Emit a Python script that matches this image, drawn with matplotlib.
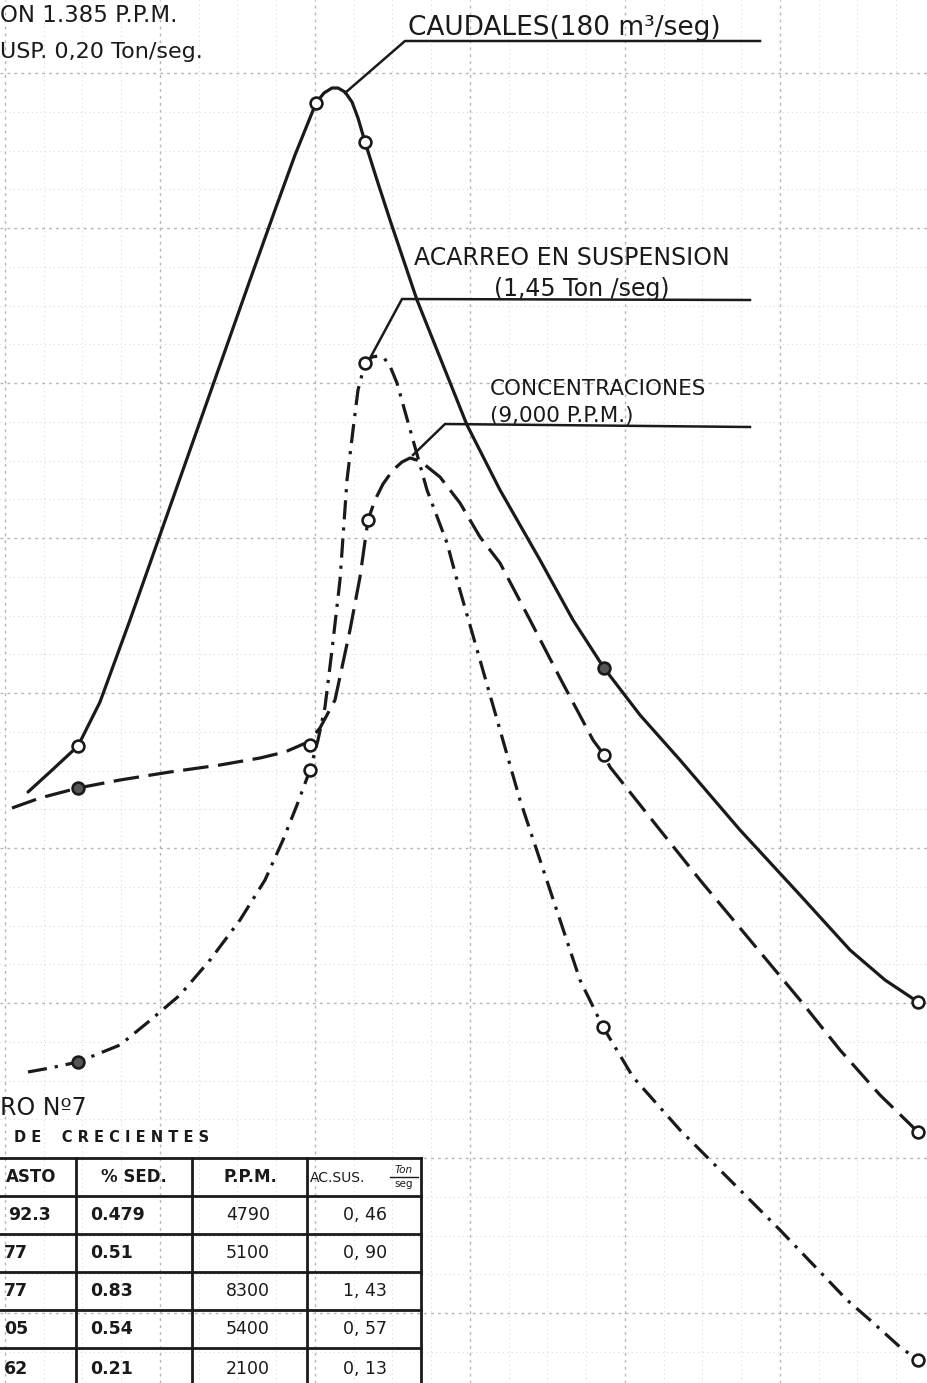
import matplotlib
matplotlib.use("Agg")
import matplotlib.pyplot as plt
import numpy as np

# ---------------- data (graph-paper units; y grows downward) ----------------
# CAUDALES (solid)
caudal_x = [28, 50, 78, 100, 130, 160, 190, 220, 250, 275, 295, 316, 324, 332, 338, 345, 352, 358, 365, 377,
            390, 417, 445, 467, 500, 540, 573, 604, 640, 680, 740, 800, 850, 885, 918]
caudal_y = [792, 772, 746, 702, 620, 535, 450, 365, 280, 210, 155, 103, 93, 88, 88, 92, 102, 118, 142, 180,
            220, 300, 370, 425, 490, 560, 620, 668, 715, 760, 830, 895, 950, 980, 1002]
caudal_px = [78, 316, 365, 604, 918]
caudal_py = [746, 103, 142, 668, 1002]
caudal_fill = [False, False, False, True, False]

# CONCENTRACIONES (dashed)
conc_x = [12, 40, 78, 120, 170, 220, 260, 285, 308, 320, 335, 350, 360, 368, 375, 383, 393, 402, 410, 420,
          440, 460, 480, 500, 530, 560, 593, 604, 610, 660, 700, 750, 800, 840, 880, 918]
conc_y = [808, 798, 788, 780, 772, 765, 758, 752, 742, 728, 700, 630, 577, 520, 500, 484, 470, 462, 458, 461,
          477, 503, 537, 563, 620, 678, 740, 755, 767, 830, 880, 940, 1000, 1050, 1095, 1132]
conc_px = [78, 310, 368, 604, 918]
conc_py = [788, 745, 520, 755, 1132]
conc_fill = [True, False, False, False, False]

# ACARREO EN SUSPENSION (dash-dot)
acar_x = [28, 50, 78, 120, 147, 180, 210, 240, 265, 283, 297, 310, 318, 325, 332, 340, 347, 353, 358, 365,
          372, 378, 384, 390, 397, 413, 427, 447, 457, 480, 500, 520, 540, 560, 580, 603, 633, 680, 730, 780,
          847, 870, 900, 918]
acar_y = [1072, 1068, 1062, 1045, 1023, 995, 960, 920, 880, 840, 805, 770, 740, 707, 650, 580, 480, 430, 390,
          363, 357, 356, 358, 366, 383, 440, 490, 543, 580, 660, 730, 800, 860, 920, 980, 1027, 1077, 1130,
          1180, 1230, 1300, 1320, 1347, 1360]
acar_px = [78, 310, 365, 603, 918]
acar_py = [1062, 770, 363, 1027, 1360]
acar_fill = [True, False, False, False, False]

# table
table_header = ["ASTO", "% SED.", "P.P.M.", "AC.SUS."]
col_gasto = ["92.3", "77", "77", "05", "62"]
col_sed = ["0.479", "0.51", "0.83", "0.54", "0.21"]
col_ppm = ["4790", "5100", "8300", "5400", "2100"]
col_acsus = ["0, 46", "0, 90", "1, 43", "0, 57", "0, 13"]

# ---------------- figure ----------------
W, H = 927, 1383
fig = plt.figure(figsize=(W / 100, H / 100), dpi=100)
ax = fig.add_axes([0, 0, 1, 1])
ax.set_xlim(0, W)
ax.set_ylim(H, 0)
ax.axis("off")
fig.patch.set_facecolor("white")

ink = "#1a1a1a"

# graph paper (faint, dotted)
minor = 155 / 4
for gx in np.arange(5, W, minor):
    major = abs(((gx - 5) / 155) - round((gx - 5) / 155)) < 0.01
    ax.axvline(gx, color="#b4b4b4" if major else "#dcdcdc", lw=1.0 if major else 0.8,
               ls=(0, (1, 3)) if not major else (0, (2, 3)), zorder=0)
for gy in np.arange(73, H, minor):
    major = abs(((gy - 73) / 155) - round((gy - 73) / 155)) < 0.01
    ax.axhline(gy, color="#b4b4b4" if major else "#dcdcdc", lw=1.0 if major else 0.8,
               ls=(0, (1, 3)) if not major else (0, (2, 3)), zorder=0)

lw = 2.3
ax.plot(caudal_x, caudal_y, color=ink, lw=lw, solid_capstyle="round", solid_joinstyle="round", zorder=3)
ax.plot(conc_x, conc_y, color=ink, lw=lw, ls=(0, (8, 3)), zorder=3)
ax.plot(acar_x, acar_y, color=ink, lw=lw, ls=(0, (6, 2.5, 1, 2.5)), zorder=3)

def markers(px, py, fill):
    for x, y, f in zip(px, py, fill):
        ax.plot([x], [y], marker="o", ms=8.5, mew=1.9, mec=ink,
                mfc="#555555" if f else "white", zorder=5)

markers(caudal_px, caudal_py, caudal_fill)
markers(conc_px, conc_py, conc_fill)
markers(acar_px, acar_py, acar_fill)

# leader lines
ax.plot([345, 405, 760], [93, 41, 41], color=ink, lw=1.8, zorder=4)
ax.plot([368, 402, 750], [362, 299, 300], color=ink, lw=1.8, zorder=4)
ax.plot([413, 445, 750], [455, 424, 427], color=ink, lw=1.8, zorder=4)

fam = ["DejaVu Sans"]
tk = dict(color=ink, family=fam, zorder=6)
ax.text(408, 28, "CAUDALES(180 m³/seg)", fontsize=19, ha="left", va="center", **tk)
ax.text(414, 258, "ACARREO EN SUSPENSION", fontsize=17, ha="left", va="center", **tk)
ax.text(494, 289, "(1,45 Ton /seg)", fontsize=17, ha="left", va="center", **tk)
ax.text(490, 389, "CONCENTRACIONES", fontsize=15.5, ha="left", va="center", **tk)
ax.text(490, 416, "(9,000 P.P.M.)", fontsize=15.5, ha="left", va="center", **tk)
ax.text(0, 15, "ON 1.385 P.P.M.", fontsize=16.5, ha="left", va="center", **tk)
ax.text(0, 52, "USP. 0,20 Ton/seg.", fontsize=16, ha="left", va="center", **tk)
ax.text(0, 1108, "RO Nº7", fontsize=17, ha="left", va="center", **tk)
ax.text(14, 1137, "D E    C R E C I E N T E S", fontsize=10.5, ha="left", va="center",
        fontweight="bold", **tk)

# table
row_edges = [1158, 1196, 1234, 1272, 1310, 1348, 1390]
col_edges = [0, 76, 192, 307, 421]
for ry in row_edges:
    ax.plot([0, 421], [ry, ry], color=ink, lw=2.0, zorder=4)
for cx in col_edges[1:]:
    ax.plot([cx, cx], [1158, 1390], color=ink, lw=2.0, zorder=4)

tfs = 12.5
hy = (row_edges[0] + row_edges[1]) / 2
ax.text(6, hy, table_header[0], fontsize=12, ha="left", va="center", fontweight="bold", **tk)
ax.text(134, hy, table_header[1], fontsize=12, ha="center", va="center", fontweight="bold", **tk)
ax.text(250, hy, table_header[2], fontsize=12, ha="center", va="center", fontweight="bold", **tk)
ax.text(310, hy + 1, table_header[3], fontsize=10, ha="left", va="center", **tk)
ax.text(404, hy - 7, "Ton", fontsize=7.5, ha="center", va="center", style="italic", **tk)
ax.plot([390, 418], [hy, hy], color=ink, lw=1.0, zorder=6)
ax.text(404, hy + 7, "seg", fontsize=7.5, ha="center", va="center", **tk)

for i in range(5):
    cy = (row_edges[i + 1] + row_edges[i + 2]) / 2
    ax.text(4 if i else 8, cy, col_gasto[i], fontsize=tfs, ha="left", va="center", fontweight="bold", **tk)
    ax.text(90, cy, col_sed[i], fontsize=tfs, ha="left", va="center", fontweight="bold", **tk)
    ax.text(248, cy, col_ppm[i], fontsize=tfs, ha="center", va="center", **tk)
    ax.text(365, cy, col_acsus[i], fontsize=tfs, ha="center", va="center", **tk)

fig.savefig("out.png", dpi=100, facecolor="white")
